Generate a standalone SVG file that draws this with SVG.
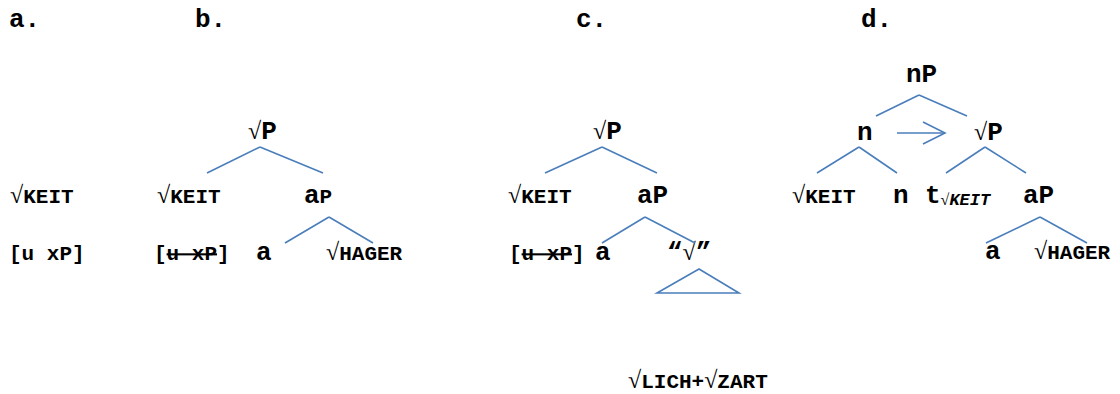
<svg xmlns="http://www.w3.org/2000/svg" width="1120" height="394" viewBox="0 0 1120 394">
<style>
text{font-family:"Liberation Mono","Courier New",monospace;font-weight:bold;font-size:26px;fill:#000}
.s{font-size:21px}
.r{font-family:"Liberation Serif","Times New Roman",serif;font-weight:normal;font-size:24px}
.sub{font-size:17px;font-style:italic}
.subr{font-family:"Liberation Serif","Times New Roman",serif;font-weight:normal;font-size:16px;font-style:normal}
.st{text-decoration:line-through}
.e line,.e polygon,.e path{stroke:#4a7ebb;stroke-width:1.6;fill:none}
</style>
<defs>
<marker id="ah" markerWidth="24" markerHeight="24" refX="22" refY="11" orient="auto" markerUnits="userSpaceOnUse" overflow="visible">
<path d="M0,0 L22,11 L0,22" fill="none" stroke="#4a7ebb" stroke-width="1.6"/>
</marker>
</defs>
<g id="labels">
<text x="9" y="27">a.</text>
<text x="195" y="27">b.</text>
<text x="576" y="27">c.</text>
<text x="861" y="27">d.</text>
</g>
<g id="tree-a">
<g id="a-keit"><text x="10" y="203"><tspan class="r">√</tspan><tspan class="s">KEIT</tspan></text></g>
<g id="a-uxp"><text class="s" x="9" y="260">[u xP]</text></g>
</g>
<g id="tree-b">
<g id="b-rootP"><text x="248" y="139"><tspan class="r">√</tspan>P</text></g>
<g id="b-keit"><text x="157" y="203"><tspan class="r">√</tspan><tspan class="s">KEIT</tspan></text></g>
<g id="b-aP"><text x="304" y="203">a<tspan class="s">P</tspan></text></g>
<g id="b-uxp"><text class="s" x="154" y="260">[<tspan class="st">u xP</tspan>]</text></g>
<g id="b-a"><text x="256" y="260">a</text></g>
<g id="b-hager"><text x="326" y="260"><tspan class="r">√</tspan><tspan class="s">HAGER</tspan></text></g>
</g>
<g id="tree-c">
<g id="c-rootP"><text x="593" y="139"><tspan class="r">√</tspan>P</text></g>
<g id="c-keit"><text x="508" y="203"><tspan class="r">√</tspan><tspan class="s">KEIT</tspan></text></g>
<g id="c-aP"><text x="637" y="203">aP</text></g>
<g id="c-uxp"><text class="s" x="509" y="260">[<tspan class="st">u xP</tspan>]</text></g>
<g id="c-a"><text x="595" y="260">a</text></g>
<g id="c-root"><text x="667" y="260">“<tspan class="r">√</tspan>”</text></g>
<g id="c-lich"><text x="628" y="388"><tspan class="r">√</tspan><tspan class="s">LICH+</tspan><tspan class="r">√</tspan><tspan class="s">ZART</tspan></text></g>
</g>
<g id="tree-d">
<g id="d-nP"><text x="906" y="82">nP</text></g>
<g id="d-n"><text x="857" y="140">n</text></g>
<g id="d-rootP"><text x="974" y="140"><tspan class="r">√</tspan>P</text></g>
<g id="d-keit"><text x="792" y="203"><tspan class="r">√</tspan><tspan class="s">KEIT</tspan></text></g>
<g id="d-n2"><text x="893" y="203">n</text></g>
<g id="d-t"><text x="925" y="203">t<tspan class="sub" dy="2"><tspan class="subr">√</tspan>KEIT</tspan></text></g>
<g id="d-aP"><text x="1023" y="203">aP</text></g>
<g id="d-a"><text x="985" y="259">a</text></g>
<g id="d-hager"><text x="1034" y="259"><tspan class="r">√</tspan><tspan class="s">HAGER</tspan></text></g>
</g>
<g id="connectors" class="e">
<line x1="260" y1="147" x2="207" y2="173"/>
<line x1="260" y1="147" x2="323" y2="173"/>
<line x1="329" y1="217" x2="285" y2="243"/>
<line x1="329" y1="217" x2="373" y2="243"/>
<line x1="602" y1="147" x2="545" y2="173"/>
<line x1="602" y1="147" x2="657" y2="173"/>
<line x1="645" y1="217" x2="602" y2="243"/>
<line x1="645" y1="217" x2="695" y2="243"/>
<polygon points="699,269 657,293 739,293"/>
<line x1="919" y1="95" x2="876" y2="116"/>
<line x1="919" y1="95" x2="967" y2="116"/>
<line x1="859" y1="147" x2="817" y2="173"/>
<line x1="859" y1="147" x2="897" y2="173"/>
<line x1="985" y1="147" x2="946" y2="173"/>
<line x1="985" y1="147" x2="1026" y2="173"/>
<line x1="1040" y1="217" x2="986" y2="243"/>
<line x1="1040" y1="217" x2="1087" y2="243"/>
<line x1="897" y1="133" x2="945" y2="133" marker-end="url(#ah)"/>
</g>
</svg>
